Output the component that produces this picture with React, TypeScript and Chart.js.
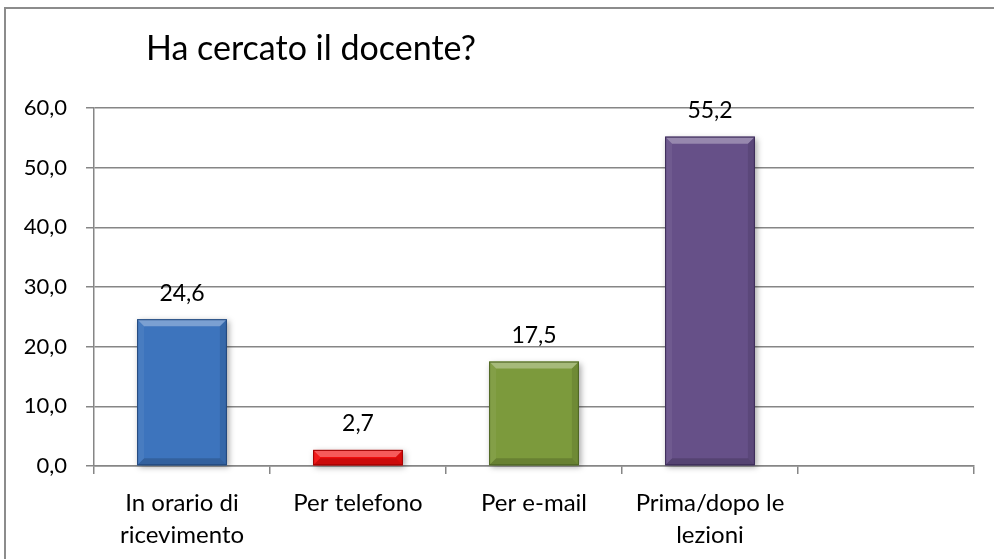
import React, { useEffect, useRef } from "react";
import { Chart, registerables } from "chart.js";
Chart.register(...registerables);

const chartTitle = "Ha cercato il docente?";
const categories: (string | string[])[] = [
  ["In orario di", "ricevimento"],
  "Per telefono",
  "Per e-mail",
  ["Prima/dopo le", "lezioni"],
  "",
];
const values: (number | null)[] = [24.6, 2.7, 17.5, 55.2, null];
const barColors = ["#3d74bd", "#f20d0d", "#7c9a3c", "#665088", "#ffffff"];
const barBorders = ["#22477a", "#a00000", "#4d6424", "#3a2a56", "#ffffff"];
const yMin = 0;
const yMax = 60;
const yStep = 10;

const FONT = "Lato, 'Open Sans', sans-serif";
const fmt = (v: number) => v.toFixed(1).replace(".", ",");

export default function App() {
  const ref = useRef<HTMLCanvasElement | null>(null);
  useEffect(() => {
    if (!ref.current) return;
    const barRect = (bar: any) => {
      const w = bar.width;
      return { l: bar.x - w / 2, r: bar.x + w / 2, t: Math.min(bar.y, bar.base), b: Math.max(bar.y, bar.base) };
    };
    const extras = {
      id: "extras",
      beforeDraw(chart: any) {
        const ctx = chart.ctx;
        ctx.save();
        ctx.fillStyle = "#ffffff";
        ctx.fillRect(0, 0, chart.width, chart.height);
        ctx.strokeStyle = "#8c8c8c";
        ctx.lineWidth = 2;
        ctx.beginPath();
        ctx.moveTo(5, chart.height);
        ctx.lineTo(5, 8);
        ctx.lineTo(chart.width, 8);
        ctx.stroke();
        ctx.restore();
      },
      beforeDatasetsDraw(chart: any) {
        const ctx = chart.ctx;
        const meta = chart.getDatasetMeta(0);
        ctx.save();
        meta.data.forEach((bar: any, i: number) => {
          if (values[i] == null) return;
          const r = barRect(bar);
          ctx.shadowColor = "rgba(0,0,0,0.35)";
          ctx.shadowBlur = 6;
          ctx.shadowOffsetX = 2;
          ctx.shadowOffsetY = 2;
          ctx.fillStyle = barColors[i];
          ctx.fillRect(r.l, r.t, r.r - r.l, r.b - r.t);
        });
        ctx.restore();
      },
      afterDatasetsDraw(chart: any) {
        const ctx = chart.ctx;
        const meta = chart.getDatasetMeta(0);
        ctx.save();
        meta.data.forEach((bar: any, i: number) => {
          if (values[i] == null) return;
          const r = barRect(bar);
          const b = Math.min(7, (r.b - r.t) / 2);
          const poly = (pts: number[][], fill: string) => {
            ctx.beginPath();
            ctx.moveTo(pts[0][0], pts[0][1]);
            for (let k = 1; k < pts.length; k++) ctx.lineTo(pts[k][0], pts[k][1]);
            ctx.closePath();
            ctx.fillStyle = fill;
            ctx.fill();
          };
          poly([[r.l, r.t], [r.r, r.t], [r.r - b, r.t + b], [r.l + b, r.t + b]], "rgba(255,255,255,0.32)");
          poly([[r.l, r.t], [r.l + b, r.t + b], [r.l + b, r.b - b], [r.l, r.b]], "rgba(255,255,255,0.06)");
          poly([[r.r, r.t], [r.r, r.b], [r.r - b, r.b - b], [r.r - b, r.t + b]], "rgba(0,0,0,0.10)");
          poly([[r.l, r.b], [r.l + b, r.b - b], [r.r - b, r.b - b], [r.r, r.b]], "rgba(0,0,0,0.16)");
          ctx.strokeStyle = barBorders[i];
          ctx.lineWidth = 1;
          ctx.strokeRect(r.l + 0.5, r.t + 0.5, r.r - r.l - 1, r.b - r.t - 1);
        });
        ctx.font = `23px ${FONT}`;
        ctx.fillStyle = "#000000";
        ctx.textAlign = "center";
        ctx.textBaseline = "middle";
        meta.data.forEach((bar: any, i: number) => {
          const v = values[i];
          if (v == null) return;
          ctx.fillText(fmt(v), bar.x, bar.y - 26);
        });
        ctx.font = `34px ${FONT}`;
        ctx.textAlign = "left";
        ctx.fillText(chartTitle, 146, 49);
        ctx.restore();
      },
    };
    const chart = new Chart(ref.current, {
      type: "bar",
      data: {
        labels: categories,
        datasets: [
          {
            data: values,
            backgroundColor: barColors,
            borderColor: barBorders,
            borderWidth: 0,
            categoryPercentage: 1,
            barPercentage: 0.51,
          },
        ],
      },
      options: {
        animation: false,
        responsive: false,
        layout: { padding: { top: 108, right: 20, left: 0, bottom: 0 } },
        plugins: { legend: { display: false }, tooltip: { enabled: false }, title: { display: false } },
        scales: {
          x: {
            offset: true,
            grid: { display: true, drawOnChartArea: false, drawTicks: true, tickLength: 8, color: "#868686", lineWidth: 1.5 },
            border: { display: true, color: "#868686", width: 1.5 },
            ticks: { color: "#000000", font: { family: FONT, size: 24, lineHeight: 1.3 }, padding: 14, maxRotation: 0, autoSkip: false },
            afterFit(scale: any) {
              scale.height = 93;
            },
          },
          y: {
            min: yMin,
            max: yMax,
            ticks: {
              stepSize: yStep,
              color: "#000000",
              font: { family: FONT, size: 22 },
              padding: 19,
              callback: (v: any) => fmt(Number(v)),
            },
            grid: { color: "#868686", lineWidth: 1.5, tickLength: 8, drawTicks: true },
            border: { display: true, color: "#868686", width: 1.5 },
            afterFit(scale: any) {
              scale.width = 94;
            },
          },
        },
      },
      plugins: [extras],
    });
    return () => chart.destroy();
  }, []);
  return (
    <div style={{ position: "absolute", left: 0, top: 0, width: 994, height: 559 }}>
      <canvas ref={ref} width={994} height={559} style={{ display: "block" }} />
    </div>
  );
}
